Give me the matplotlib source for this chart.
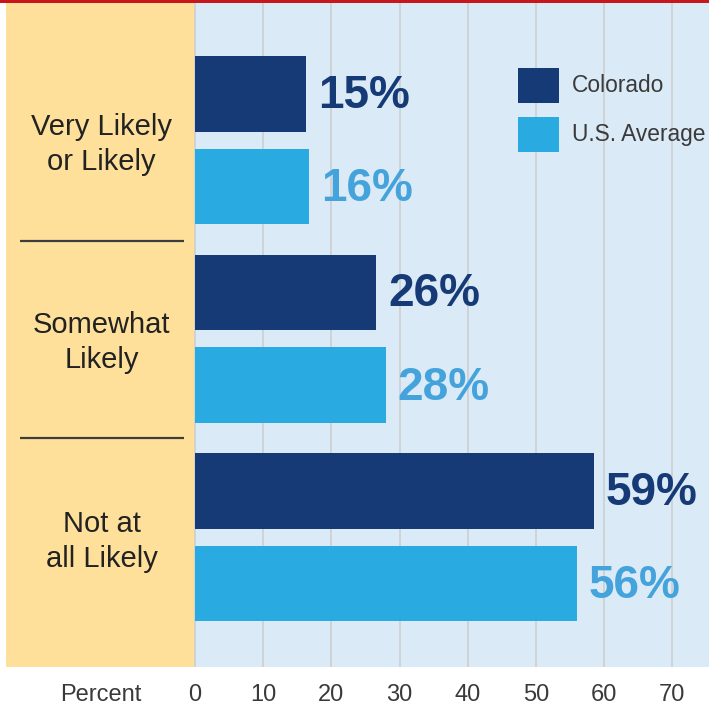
import matplotlib
matplotlib.use('Agg')
import matplotlib.pyplot as plt
from matplotlib.patches import Rectangle
from matplotlib import font_manager
import numpy as np

# data
categories = ['Very Likely\nor Likely', 'Somewhat\nLikely', 'Not at\nall Likely']
colorado = [16.3, 26.6, 58.5]
us_avg = [16.7, 28.0, 56.0]
colorado_labels = ['15%', '26%', '59%']
us_labels = ['16%', '28%', '56%']
grid_ticks = [0, 10, 20, 30, 40, 50, 60, 70]
series_names = ['Colorado', 'U.S. Average']

NAVY = '#163a76'
SKY = '#29abe2'
SKY_TEXT = '#45a3dc'
YELLOW = '#fee09b'
PANEL = '#dbeaf7'
GREY_TXT = '#3a3a3a'

names = {f.name for f in font_manager.fontManager.ttflist}
BASE = 'Liberation Sans'
NARROW = 'Liberation Sans Narrow' if 'Liberation Sans Narrow' in names else 'Liberation Sans'
plt.rcParams['font.family'] = [BASE, 'DejaVu Sans']

W, H = 709, 708
fig = plt.figure(figsize=(W / 100, H / 100), dpi=100)
fig.patch.set_facecolor('white')

# axes spans from the yellow panel to the right edge (pixels)
ax = fig.add_axes([6 / W, (H - 667) / H, (W - 6) / W, 665 / H])
ax.set_facecolor(PANEL)
px = 6.82  # pixels per percent
ax.set_xlim(-(195 - 6) / px, (W - 195) / px)
ax.set_ylim(2.654, -0.6965)

ax.axvspan(-(195 - 6) / px, 0, color=YELLOW, zorder=0.3, lw=0)
ax.vlines(grid_ticks, 2.654, -0.6965, color='#cfd1d3', lw=1.3, zorder=0.5)

y = np.arange(len(categories))
off = 0.233
bh = 0.38
ax.barh(y - off, colorado, height=bh, color=NAVY, zorder=2)
ax.barh(y + off, us_avg, height=bh, color=SKY, zorder=2)

lab_size = 39 if NARROW != BASE else 33
for i in range(len(categories)):
    ax.annotate(colorado_labels[i], (colorado[i], y[i] - off), xytext=(8.5, -10),
                textcoords='offset points', va='baseline', ha='left',
                fontsize=lab_size, fontweight='bold', color=NAVY, family=NARROW)
    ax.annotate(us_labels[i], (us_avg[i], y[i] + off), xytext=(8.5, -10.5),
                textcoords='offset points', va='baseline', ha='left',
                fontsize=lab_size, fontweight='bold', color=SKY_TEXT, family=NARROW)
    ax.text(-13.7, y[i] + 0.02, categories[i], ha='center', va='center',
            fontsize=21, color='#222222', linespacing=1.32, zorder=3)

for ys in [0.51, 1.5]:
    ax.plot([-25.66, -1.61], [ys, ys], color='#3d3d3d', lw=1.6, zorder=3,
            solid_capstyle='butt')

ax.set_xticks([-13.8] + grid_ticks)
ax.set_xticklabels(['Percent'] + [str(t) for t in grid_ticks])
ax.tick_params(axis='x', length=0, pad=12.5, labelsize=17, labelcolor=GREY_TXT)
ax.set_yticks([])
for s in ax.spines.values():
    s.set_visible(False)

# legend drawn by hand: swatches 41x35 px
for k, (name, col) in enumerate(zip(series_names, [NAVY, SKY])):
    top = 68 + k * 48.7
    fig.add_artist(Rectangle((518 / W, 1 - (top + 35) / H), 41 / W, 35 / H,
                             transform=fig.transFigure, color=col, lw=0))
    fig.text(572 / W, 1 - (top + 17.5) / H, name, ha='left', va='center',
             fontsize=16.4, color=GREY_TXT)

# red rule along the top
fig.add_artist(Rectangle((0, 1 - 2.5 / H), 1, 2.5 / H, transform=fig.transFigure,
                         color='#c8161d', lw=0))

fig.savefig('out.png', dpi=100)
